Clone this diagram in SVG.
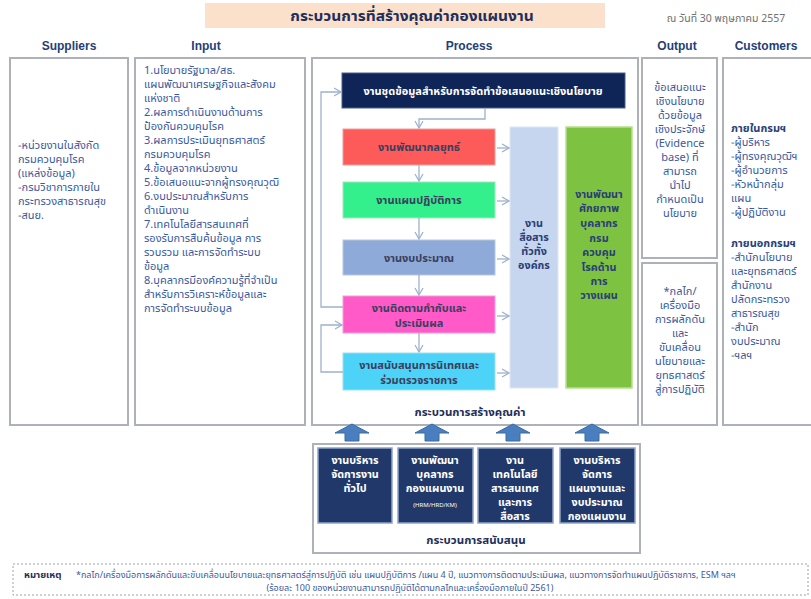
<svg xmlns="http://www.w3.org/2000/svg" width="811" height="599" viewBox="0 0 811 599">
<defs>
<style>
text{font-family:"Noto Sans Thai UI","Noto Sans Thai","Tahoma","Garuda","Loma","Liberation Sans",sans-serif;}
.col{fill:#fff;stroke:#aeb2b8;stroke-width:2;}
.hdr{font-size:12px;font-weight:bold;fill:#24407a;text-anchor:middle;font-family:"Liberation Sans",Arial,sans-serif;}
.t{font-size:11px;fill:#3a5aa0;}
.tc{font-size:11px;fill:#3a5aa0;text-anchor:middle;}
.tb{font-size:11px;fill:#2a3f78;font-weight:bold;}
.pt{font-size:11px;fill:#3a3f5e;text-anchor:middle;font-weight:bold;}
.pt10{font-size:10.8px;fill:#2a3f78;text-anchor:middle;font-weight:bold;}
.wt{font-size:11px;fill:#fff;text-anchor:middle;font-weight:bold;}
.wt10{font-size:10.8px;fill:#fff;text-anchor:middle;font-weight:bold;}
.lbl{font-size:11.5px;fill:#1f2f5a;text-anchor:middle;font-weight:bold;}
.con{fill:none;stroke:#9fb1cc;stroke-width:1.3;}
.up{fill:#4a7fbf;stroke:#3a6aa5;stroke-width:1;}
.sup{fill:#21386a;stroke:#8fa4c8;stroke-width:1.5;}
.nt{font-size:9px;fill:#3a5aa0;}
</style>
<marker id="ah" markerWidth="10" markerHeight="10" refX="8" refY="5" orient="auto" markerUnits="userSpaceOnUse">
<path d="M1,1 L8,5 L1,9" fill="none" stroke="#9fb1cc" stroke-width="1.3"/>
</marker>
</defs>
<rect width="811" height="599" fill="#fff"/>

<g id="title">
<rect x="205" y="3" width="400" height="25" fill="#fbe0cc"/>
<text x="412" y="21" font-size="15.5" font-weight="bold" fill="#1f2f5a" text-anchor="middle">กระบวนการที่สร้างคุณค่ากองแผนงาน</text>
<text x="726" y="22" font-size="10.5" fill="#707070" text-anchor="middle">ณ วันที่ 30 พฤษภาคม 2557</text>
</g>

<g id="headers">
<text class="hdr" x="69" y="50">Suppliers</text>
<text class="hdr" x="206" y="50">Input</text>
<text class="hdr" x="469" y="50">Process</text>
<text class="hdr" x="677" y="50">Output</text>
<text class="hdr" x="766" y="50">Customers</text>
</g>

<g id="suppliers">
<rect class="col" x="10" y="58" width="118" height="367"/>
<text class="t" x="18"><tspan x="18" y="149">-หน่วยงานในสังกัด</tspan><tspan x="18" y="163">กรมควบคุมโรค</tspan><tspan x="18" y="177">(แหล่งข้อมูล)</tspan><tspan x="18" y="191">-กรมวิชาการภายใน</tspan><tspan x="18" y="205">กระทรวงสาธารณสุข</tspan><tspan x="18" y="219">-สนย.</tspan></text>
</g>

<g id="input">
<rect class="col" x="135" y="58" width="170" height="367"/>
<text class="t"><tspan x="144" y="74">1.นโยบายรัฐบาล/สธ.</tspan><tspan x="144" y="88">แผนพัฒนาเศรษฐกิจและสังคม</tspan><tspan x="144" y="102">แห่งชาติ</tspan><tspan x="144" y="116">2.ผลการดำเนินงานด้านการ</tspan><tspan x="144" y="130">ป้องกันควบคุมโรค</tspan><tspan x="144" y="144">3.ผลการประเมินยุทธศาสตร์</tspan><tspan x="144" y="158">กรมควบคุมโรค</tspan><tspan x="144" y="172">4.ข้อมูลจากหน่วยงาน</tspan><tspan x="144" y="186">5.ข้อเสนอแนะจากผู้ทรงคุณวุฒิ</tspan><tspan x="144" y="200">6.งบประมาณสำหรับการ</tspan><tspan x="144" y="214">ดำเนินงาน</tspan><tspan x="144" y="228">7.เทคโนโลยีสารสนเทศที่</tspan><tspan x="144" y="242">รองรับการสืบค้นข้อมูล การ</tspan><tspan x="144" y="256">รวบรวม และการจัดทำระบบ</tspan><tspan x="144" y="270">ข้อมูล</tspan><tspan x="144" y="284">8.บุคลากรมีองค์ความรู้ที่จำเป็น</tspan><tspan x="144" y="298">สำหรับการวิเคราะห์ข้อมูลและ</tspan><tspan x="144" y="312">การจัดทำระบบข้อมูล</tspan></text>
</g>

<g id="process">
<rect class="col" x="312" y="58" width="326" height="367"/>
<text class="lbl" x="470" y="416">กระบวนการสร้างคุณค่า</text>
</g>

<g id="node-data">
<rect x="342" y="73" width="283" height="35" fill="#0f2557" stroke="#4a5f8a" stroke-width="1"/>
<text class="wt" x="483" y="95">งานชุดข้อมูลสำหรับการจัดทำข้อเสนอแนะเชิงนโยบาย</text>
</g>
<g id="node-strategy">
<rect x="343" y="129" width="152" height="36" fill="#fd5a5a" stroke="#e8a0a0" stroke-width="1"/>
<text class="pt" x="419" y="151">งานพัฒนากลยุทธ์</text>
</g>
<g id="node-plan">
<rect x="343" y="182" width="152" height="36" fill="#33f08c" stroke="#a0e8c0" stroke-width="1"/>
<text class="pt" x="419" y="204">งานแผนปฏิบัติการ</text>
</g>
<g id="node-budget">
<rect x="343" y="240" width="152" height="35" fill="#8eaad8" stroke="#b8c8e0" stroke-width="1"/>
<text class="pt" x="419" y="262">งานงบประมาณ</text>
</g>
<g id="node-monitor">
<rect x="343" y="296" width="152" height="37" fill="#ff5ac8" stroke="#f0a0d8" stroke-width="1"/>
<text class="pt" x="419" y="312">งานติดตามกำกับและ</text>
<text class="pt" x="419" y="327">ประเมินผล</text>
</g>
<g id="node-inspect">
<rect x="343" y="353" width="152" height="37" fill="#4dd3f7" stroke="#a0e0f0" stroke-width="1"/>
<text class="pt" x="419" y="369">งานสนับสนุนการนิเทศและ</text>
<text class="pt" x="419" y="384">ร่วมตรวจราชการ</text>
</g>
<g id="node-comm">
<rect x="510" y="127" width="48" height="261" fill="#c6d6ee" stroke="#e0e8f4" stroke-width="1"/>
<text class="pt10" fill="#3a3f5e"><tspan x="534" y="227">งาน</tspan><tspan x="534" y="241">สื่อสาร</tspan><tspan x="534" y="255">ทั่วทั้ง</tspan><tspan x="534" y="269">องค์กร</tspan></text>
</g>
<g id="node-hrd">
<rect x="566" y="127" width="66" height="261" fill="#7ec242" stroke="#b8e090" stroke-width="1.5"/>
<text class="pt10"><tspan x="599" y="198">งานพัฒนา</tspan><tspan x="599" y="212">ศักยภาพ</tspan><tspan x="599" y="227">บุคลากร</tspan><tspan x="599" y="242">กรม</tspan><tspan x="599" y="256">ควบคุม</tspan><tspan x="599" y="271">โรคด้าน</tspan><tspan x="599" y="285">การ</tspan><tspan x="599" y="299">วางแผน</tspan></text>
</g>

<g id="connectors">
<path class="con" d="M485,108 V119 H419 V128" marker-end="url(#ah)"/>
<path class="con" d="M419,165 V181" marker-end="url(#ah)"/>
<path class="con" d="M419,218 V239" marker-end="url(#ah)"/>
<path class="con" d="M419,275 V295" marker-end="url(#ah)"/>
<path class="con" d="M419,333 V352" marker-end="url(#ah)"/>
<path class="con" d="M497,148 H509" marker-end="url(#ah)"/>
<path class="con" d="M497,201 H509" marker-end="url(#ah)"/>
<path class="con" d="M497,259 H509" marker-end="url(#ah)"/>
<path class="con" d="M497,316 H509" marker-end="url(#ah)"/>
<path class="con" d="M497,373 H509" marker-end="url(#ah)"/>
<path class="con" d="M343,307 H321 V92 H341" marker-end="url(#ah)"/>
<path class="con" d="M343,372 H321 V325 H342" marker-end="url(#ah)"/>
</g>

<g id="output">
<rect class="col" x="642" y="58" width="75" height="200"/>
<text class="tc"><tspan x="680" y="91">ข้อเสนอแนะ</tspan><tspan x="680" y="105">เชิงนโยบาย</tspan><tspan x="680" y="119">ด้วยข้อมูล</tspan><tspan x="680" y="133">เชิงประจักษ์</tspan><tspan x="680" y="147">(Evidence</tspan><tspan x="680" y="161">base) ที่</tspan><tspan x="680" y="175">สามารถ</tspan><tspan x="680" y="189">นำไป</tspan><tspan x="680" y="203">กำหนดเป็น</tspan><tspan x="680" y="217">นโยบาย</tspan></text>
</g>
<g id="output-tools">
<rect class="col" x="642" y="263" width="75" height="162"/>
<text class="tc"><tspan x="680" y="295">*กลไก/</tspan><tspan x="680" y="309">เครื่องมือ</tspan><tspan x="680" y="323">การผลักดัน</tspan><tspan x="680" y="337">และ</tspan><tspan x="680" y="351">ขับเคลื่อน</tspan><tspan x="680" y="365">นโยบายและ</tspan><tspan x="680" y="379">ยุทธศาสตร์</tspan><tspan x="680" y="393">สู่การปฏิบัติ</tspan></text>
</g>

<g id="customers">
<rect class="col" x="723" y="58" width="95" height="367"/>
<text class="tb" x="731" y="132">ภายในกรมฯ</text>
<text class="t"><tspan x="731" y="146">-ผู้บริหาร</tspan><tspan x="731" y="160">-ผู้ทรงคุณวุฒิฯ</tspan><tspan x="731" y="174">-ผู้อำนวยการ</tspan><tspan x="731" y="188">-หัวหน้ากลุ่ม</tspan><tspan x="731" y="202">แผน</tspan><tspan x="731" y="216">-ผู้ปฏิบัติงาน</tspan></text>
<text class="tb" x="731" y="247">ภายนอกกรมฯ</text>
<text class="t"><tspan x="731" y="261">-สำนักนโยบาย</tspan><tspan x="731" y="275">และยุทธศาสตร์</tspan><tspan x="731" y="289">สำนักงาน</tspan><tspan x="731" y="303">ปลัดกระทรวง</tspan><tspan x="731" y="317">สาธารณสุข</tspan><tspan x="731" y="331">-สำนัก</tspan><tspan x="731" y="345">งบประมาณ</tspan><tspan x="731" y="359">-ฯลฯ</tspan></text>
</g>

<g id="support-arrows">
<polygon class="up" points="335,433 352,424 369,433 359,433 359,441 345,441 345,433"/>
<polygon class="up" points="415,433 432,424 449,433 439,433 439,441 425,441 425,433"/>
<polygon class="up" points="496,433 513,424 530,433 520,433 520,441 506,441 506,433"/>
<polygon class="up" points="575,433 592,424 609,433 599,433 599,441 585,441 585,433"/>
</g>

<g id="support">
<rect class="col" x="313" y="444" width="327" height="109"/>
<text class="lbl" x="476" y="544">กระบวนการสนับสนุน</text>
</g>
<g id="node-admin">
<rect class="sup" x="318" y="448" width="74" height="75"/>
<text class="wt10"><tspan x="355" y="464">งานบริหาร</tspan><tspan x="355" y="478">จัดการงาน</tspan><tspan x="355" y="492">ทั่วไป</tspan></text>
</g>
<g id="node-hr">
<rect class="sup" x="398" y="448" width="75" height="75"/>
<text class="wt10"><tspan x="435" y="464">งานพัฒนา</tspan><tspan x="435" y="478">บุคลากร</tspan><tspan x="435" y="492">กองแผนงาน</tspan></text>
<text x="435" y="507" font-size="6" fill="#fff" text-anchor="middle">(HRM/HRD/KM)</text>
</g>
<g id="node-it">
<rect class="sup" x="478" y="448" width="75" height="75"/>
<text class="wt10"><tspan x="515" y="464">งาน</tspan><tspan x="515" y="478">เทคโนโลยี</tspan><tspan x="515" y="492">สารสนเทศ</tspan><tspan x="515" y="506">และการ</tspan><tspan x="515" y="520">สื่อสาร</tspan></text>
</g>
<g id="node-planbudget">
<rect class="sup" x="560" y="448" width="75" height="75"/>
<text class="wt10"><tspan x="597" y="464">งานบริหาร</tspan><tspan x="597" y="478">จัดการ</tspan><tspan x="597" y="492">แผนงานและ</tspan><tspan x="597" y="506">งบประมาณ</tspan><tspan x="597" y="520">กองแผนงาน</tspan></text>
</g>

<g id="note">
<rect x="13" y="564" width="795" height="31" fill="none" stroke="#9aa0a8" stroke-width="1" stroke-dasharray="2,2"/>
<text x="24" y="578" font-size="9.5" font-weight="bold" fill="#1f2f5a">หมายเหตุ</text>
<text class="nt" x="76" y="578">*กลไก/เครื่องมือการผลักดันและขับเคลื่อนนโยบายและยุทธศาสตร์สู่การปฏิบัติ  เช่น  แผนปฏิบัติการ /แผน 4 ปี, แนวทางการติดตามประเมินผล, แนวทางการจัดทำแผนปฏิบัติราชการ, ESM ฯลฯ</text>
<text class="nt" x="410" y="591" text-anchor="middle">(ร้อยละ 100 ของหน่วยงานสามารถปฏิบัติได้ตามกลไกและเครื่องมือภายในปี 2561)</text>
</g>
</svg>
